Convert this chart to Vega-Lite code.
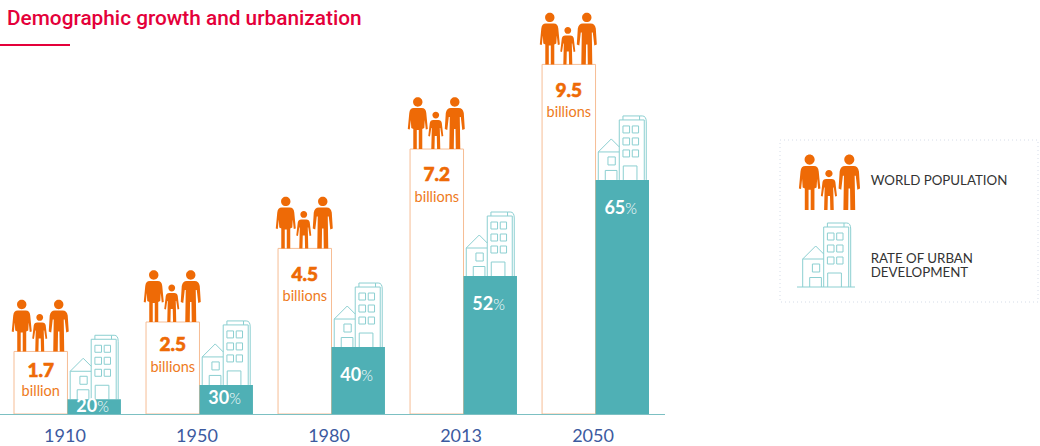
{
"$schema":"https://vega.github.io/schema/vega-lite/v6.json",
"width":1040,"height":446,"autosize":"none","padding":0,"background":"white",
"title":{"text":"Demographic growth and urbanization","anchor":"start","frame":"group","offset":-30,"dx":7,"font":"Roboto","fontSize":20.8,"fontWeight":500,"color":"#e4003a"},
"config":{"view":{"stroke":null}},
"datasets":{
"bars":[
{"year":"1910","series":"population","value":1.7,"label":"1.7","unit":"billion"},
{"year":"1950","series":"population","value":2.5,"label":"2.5","unit":"billions"},
{"year":"1980","series":"population","value":4.5,"label":"4.5","unit":"billions"},
{"year":"2013","series":"population","value":7.2,"label":"7.2","unit":"billions"},
{"year":"2050","series":"population","value":9.5,"label":"9.5","unit":"billions"},
{"year":"1910","series":"urban","value":0.4,"label":"20"},
{"year":"1950","series":"urban","value":0.79,"label":"30"},
{"year":"1980","series":"urban","value":1.82,"label":"40"},
{"year":"2013","series":"urban","value":3.75,"label":"52"},
{"year":"2050","series":"urban","value":6.36,"label":"65"}
],
"legendItems":[
{"item":"WORLD POPULATION","label":"WORLD POPULATION"},
{"item":"RATE OF URBAN DEVELOPMENT","label":"RATE OF URBAN\nDEVELOPMENT"}
]
},
"resolve":{"scale":{"x":"independent","y":"independent"},"axis":{"x":"independent","y":"independent"}},
"layer":[
{
"data":{"name":"bars"},
"encoding":{
"x":{"field":"year","type":"nominal","title":null,"sort":null,
"scale":{"type":"band","domain":["1910","1950","1980","2013","2050"],"range":[14,649],"paddingInner":0.19,"paddingOuter":0},
"axis":{"orient":"bottom","offset":-32,"domain":false,"ticks":false,"labelAngle":0,"labelPadding":22,"labelFont":"Lato","labelFontSize":18,"labelColor":"#3c5aa0","labelOffset":-2.5,"grid":false,"labelBaseline":"middle"}},
"xOffset":{"field":"series","type":"nominal","scale":{"domain":["population","urban"],"paddingInner":0,"paddingOuter":0}},
"y":{"field":"value","type":"quantitative","title":null,"axis":null,"scale":{"domain":[0,11.25],"range":[414,0],"nice":false,"zero":true}}
},
"layer":[
{"transform":[{"filter":"datum.series==='population'"}],"mark":{"type":"bar","fill":"white","stroke":"#f6bd95","strokeWidth":1}},
{"transform":[{"filter":"datum.series==='urban'"}],"mark":{"type":"point","filled":false,"fill":"white","fillOpacity":0,"size":4,"stroke":"#8ccfd1","strokeWidth":1,"opacity":1,"shape":"M-24,0 L-24,-28 L-11,-41 L-3,-33 M-24,-28 L-3,-28 M-14.3,-23 H-7 V-15 H-14.3 Z M-17,0 V-9.5 H-5.3 V0 M-3,0 V-60 H22 V0 M0.7,-60 V-64 H17.3 V-60 M17.3,-64 H20 Q24,-64 24,-58 V0 M0.7,-54 H7.3 V-47 H0.7 Z M10,-54 H16.3 V-47 H10 Z M0.7,-42 H7.3 V-35 H0.7 Z M10,-42 H16.3 V-35 H10 Z M0.7,-30 H7.3 V-23 H0.7 Z M10,-30 H16.3 V-23 H10 Z M1,0 V-14 H14.7 V0"}},
{"transform":[{"filter":"datum.series==='urban'"}],"mark":{"type":"bar","fill":"#4fb0b5"}},
{"transform":[{"filter":"datum.series==='population'"}],"mark":{"type":"point","filled":true,"size":4,"fill":"#ee6a06","opacity":1,"strokeWidth":0,"shape":"M-23.7,-47 a4.7,4.7 0 1,0 9.4,0 a4.7,4.7 0 1,0 -9.4,0 Z M-23,-41 L-15,-41 Q-11,-41 -10.5,-36 L-9,-20 L-11,-19.5 L-12,-29 L-12.5,-21 L-14.5,-20 L-14.5,0 L-18,0 L-18,-19 L-20,-19 L-20,0 L-23.5,0 L-23.5,-20 L-25.5,-21 L-26,-29 L-27,-19.5 L-29,-20 L-27.5,-36 Q-27,-41 -23,-41 Z M13.3,-47 a4.7,4.7 0 1,0 9.4,0 a4.7,4.7 0 1,0 -9.4,0 Z M14,-41 L22,-41 Q26,-41 27,-36 L28,-20 L25.5,-19 L24,-32 L23,-32 L23.5,0 L19,0 L18.7,-20 L17.3,-20 L17,0 L12.5,0 L13,-32 L12,-32 L10.5,-19 L8,-20 L9,-36 Q10,-41 14,-41 Z M-4.4,-34 a3.4,3.4 0 1,0 6.8,0 a3.4,3.4 0 1,0 -6.8,0 Z M-3.5,-29 L1.5,-29 Q4.5,-29 5,-26 L6.5,-13 L4.8,-12.5 L3.5,-21 L3,-21 L3.5,0 L0.3,0 L0,-13 L-2,-13 L-2.3,0 L-5.5,0 L-5,-21 L-5.5,-21 L-6.8,-12.5 L-8.5,-13 L-7,-26 Q-6.5,-29 -3.5,-29 Z"}},
{"transform":[{"filter":"datum.series==='population'"},{"calculate":"datum.value>=4?datum.value-0.71:datum.value>=2?datum.value-0.63:datum.value-0.52","as":"labelAt"}],
 "mark":{"type":"text","font":"Lato","fontSize":19,"fontWeight":900,"color":"#ee6a06","stroke":"#ee6a06","strokeWidth":0.6,"baseline":"middle"},
 "encoding":{"y":{"field":"labelAt","type":"quantitative"},"text":{"field":"label"}}},
{"transform":[{"filter":"datum.series==='population'"},{"calculate":"datum.value>=4?datum.value-1.33:datum.value>=2?datum.value-1.25:datum.value-1.1","as":"unitAt"}],
 "mark":{"type":"text","font":"Lato","fontSize":14.5,"color":"#ee7a22","baseline":"middle"},
 "encoding":{"y":{"field":"unitAt","type":"quantitative"},"text":{"field":"unit"}}},
{"transform":[{"filter":"datum.series==='urban'"},{"calculate":"datum.value>=1?datum.value-0.8:datum.value/2","as":"labelAt"}],
 "mark":{"type":"text","font":"Lato","fontSize":18,"fontWeight":700,"color":"white","baseline":"middle","align":"right","dx":3},
 "encoding":{"y":{"field":"labelAt","type":"quantitative"},"text":{"field":"label"}}},
{"transform":[{"filter":"datum.series==='urban'"},{"calculate":"datum.value>=1?datum.value-0.8:datum.value/2","as":"labelAt"}],
 "mark":{"type":"text","font":"Lato","fontSize":15,"fontWeight":300,"color":"white","baseline":"middle","align":"left","dx":3,"text":"%"},
 "encoding":{"y":{"field":"labelAt","type":"quantitative"}}}
]
},
{"data":{"values":[{"line":"baseline"}]},"mark":{"type":"rect","fill":"#7cc0c3"},
 "encoding":{"x":{"field":"line","type":"nominal","axis":null,"scale":{"type":"band","range":[0,665],"padding":0}},"y":{"field":"line","type":"nominal","axis":null,"scale":{"type":"band","range":[414,415],"padding":0}}}},
{"data":{"values":[{"line":"title underline"}]},"mark":{"type":"rect","fill":"#e4003a"},
 "encoding":{"x":{"field":"line","type":"nominal","axis":null,"scale":{"type":"band","range":[0,70],"padding":0}},"y":{"field":"line","type":"nominal","axis":null,"scale":{"type":"band","range":[44,46],"padding":0}}}},
{"data":{"values":[{"box":"legend"}]},"mark":{"type":"rect","fill":"white","fillOpacity":0,"stroke":"#d5dce8","strokeWidth":1,"strokeDash":[1,3]},
 "encoding":{"x":{"field":"box","type":"nominal","axis":null,"scale":{"type":"band","range":[780,1038],"padding":0}},"y":{"field":"box","type":"nominal","axis":null,"scale":{"type":"band","range":[140,302],"padding":0}}}},
{"data":{"name":"legendItems"},
 "encoding":{"x":{"field":"item","type":"nominal","axis":null,"scale":{"type":"point","domain":["WORLD POPULATION","RATE OF URBAN DEVELOPMENT"],"range":[830,826.7],"padding":0}},
 "y":{"field":"item","type":"nominal","axis":null,"scale":{"type":"point","domain":["WORLD POPULATION","RATE OF URBAN DEVELOPMENT"],"range":[210,287],"padding":0}}},
 "layer":[
 {"transform":[{"filter":"datum.item==='WORLD POPULATION'"}],"mark":{"type":"point","filled":true,"size":4.6,"fill":"#ee6a06","opacity":1,"strokeWidth":0,"shape":"M-23.7,-47 a4.7,4.7 0 1,0 9.4,0 a4.7,4.7 0 1,0 -9.4,0 Z M-23,-41 L-15,-41 Q-11,-41 -10.5,-36 L-9,-20 L-11,-19.5 L-12,-29 L-12.5,-21 L-14.5,-20 L-14.5,0 L-18,0 L-18,-19 L-20,-19 L-20,0 L-23.5,0 L-23.5,-20 L-25.5,-21 L-26,-29 L-27,-19.5 L-29,-20 L-27.5,-36 Q-27,-41 -23,-41 Z M13.3,-47 a4.7,4.7 0 1,0 9.4,0 a4.7,4.7 0 1,0 -9.4,0 Z M14,-41 L22,-41 Q26,-41 27,-36 L28,-20 L25.5,-19 L24,-32 L23,-32 L23.5,0 L19,0 L18.7,-20 L17.3,-20 L17,0 L12.5,0 L13,-32 L12,-32 L10.5,-19 L8,-20 L9,-36 Q10,-41 14,-41 Z M-4.4,-34 a3.4,3.4 0 1,0 6.8,0 a3.4,3.4 0 1,0 -6.8,0 Z M-3.5,-29 L1.5,-29 Q4.5,-29 5,-26 L6.5,-13 L4.8,-12.5 L3.5,-21 L3,-21 L3.5,0 L0.3,0 L0,-13 L-2,-13 L-2.3,0 L-5.5,0 L-5,-21 L-5.5,-21 L-6.8,-12.5 L-8.5,-13 L-7,-26 Q-6.5,-29 -3.5,-29 Z"}},
 {"transform":[{"filter":"datum.item!=='WORLD POPULATION'"}],"mark":{"type":"point","filled":false,"fill":"white","fillOpacity":0,"size":4,"stroke":"#8ccfd1","strokeWidth":1,"opacity":1,"shape":"M-29.7,0 H28.3 M-24,0 L-24,-28 L-11,-41 L-3,-33 M-24,-28 L-3,-28 M-14.3,-23 H-7 V-15 H-14.3 Z M-17,0 V-9.5 H-5.3 V0 M-3,0 V-60 H22 V0 M0.7,-60 V-64 H17.3 V-60 M17.3,-64 H20 Q24,-64 24,-58 V0 M0.7,-54 H7.3 V-47 H0.7 Z M10,-54 H16.3 V-47 H10 Z M0.7,-42 H7.3 V-35 H0.7 Z M10,-42 H16.3 V-35 H10 Z M0.7,-30 H7.3 V-23 H0.7 Z M10,-30 H16.3 V-23 H10 Z M1,0 V-14 H14.7 V0"}}
 ]},
{"data":{"name":"legendItems"},"mark":{"type":"text","font":"Lato","fontSize":13.3,"color":"#333333","align":"left","baseline":"middle","lineBreak":"\n","lineHeight":14},
 "encoding":{"x":{"field":"item","type":"nominal","axis":null,"scale":{"type":"point","domain":["WORLD POPULATION","RATE OF URBAN DEVELOPMENT"],"range":[870.7,870.7],"padding":0}},
 "y":{"field":"item","type":"nominal","axis":null,"scale":{"type":"point","domain":["WORLD POPULATION","RATE OF URBAN DEVELOPMENT"],"range":[181,258.5],"padding":0}},
 "text":{"field":"label"}}}
]
}
